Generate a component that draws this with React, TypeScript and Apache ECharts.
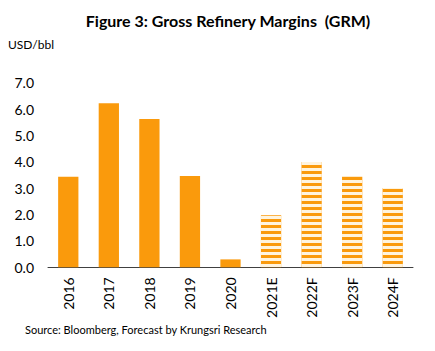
import React, { useEffect, useRef } from "react";
import * as echarts from "echarts";

const categories = ["2016", "2017", "2018", "2019", "2020", "2021E", "2022F", "2023F", "2024F"];
const grmValues = [3.43, 6.22, 5.62, 3.46, 0.3, 1.97, 3.99, 3.43, 3.01];
const isForecast = [false, false, false, false, false, true, true, true, true];
const yTicks = [0, 1, 2, 3, 4, 5, 6, 7];

const ORANGE = "#FA9A0C";
const FONT = "Lato, 'Open Sans', sans-serif";

export default function App() {
  const ref = useRef<HTMLDivElement>(null);
  useEffect(() => {
    if (!ref.current) return;
    const chart = echarts.init(ref.current, null, { renderer: "svg" });
    chart.setOption({
      animation: false,
      backgroundColor: "#ffffff",
      title: {
        text: "Figure 3: Gross Refinery Margins  (GRM)",
        left: 223,
        textAlign: "center",
        top: 7,
        textStyle: { fontFamily: FONT, fontWeight: "bold", fontSize: 16, color: "#000" },
      },
      graphic: [
        { type: "text", left: 8, top: 38, style: { text: "USD/bbl", font: `12px ${FONT}`, fill: "#000" } },
        {
          type: "text",
          left: 25,
          top: 324,
          style: { text: "Source: Bloomberg, Forecast by Krungsri Research", font: `11px ${FONT}`, fill: "#000" },
        },
      ],
      grid: { left: 48, right: 22, top: 82.7, bottom: 83.7, containLabel: false },
      xAxis: {
        type: "category",
        data: categories,
        axisLine: { lineStyle: { color: "#404040", width: 1 } },
        axisTick: { show: false },
        axisLabel: { rotate: 90, margin: 10, fontFamily: FONT, fontSize: 14, color: "#000" },
      },
      yAxis: {
        type: "value",
        min: yTicks[0],
        max: yTicks[yTicks.length - 1],
        interval: 1,
        splitLine: { show: false },
        axisLine: { show: false },
        axisTick: { show: false },
        axisLabel: {
          margin: 14,
          fontFamily: FONT,
          fontSize: 14,
          color: "#000",
          formatter: (v: number) => v.toFixed(1),
        },
      },
      series: [
        {
          type: "bar",
          barWidth: "50%",
          data: grmValues.map((v, i) => ({
            value: v,
            itemStyle: isForecast[i]
              ? {
                  color: ORANGE,
                  decal: {
                    symbol: "rect",
                    symbolSize: 1,
                    dashArrayX: [1, 0],
                    dashArrayY: [2.4, 2.2],
                    rotation: 0,
                    color: "#FFF4DE",
                  },
                }
              : { color: ORANGE },
          })),
        },
      ],
    });
    return () => chart.dispose();
  }, []);
  return <div ref={ref} style={{ position: "fixed", left: 0, top: 0, width: 435, height: 351 }} />;
}
